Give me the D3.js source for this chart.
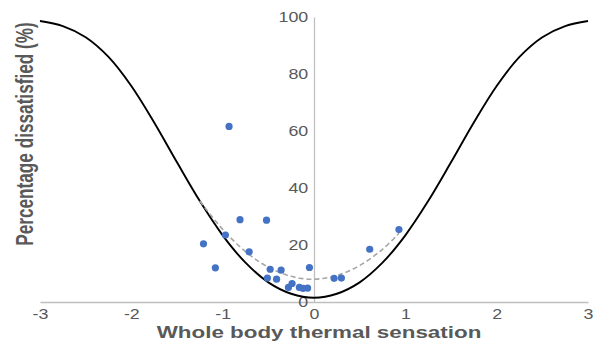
<!DOCTYPE html>
<html><head><meta charset="utf-8">
<script src="https://cdn.jsdelivr.net/npm/d3@7"></script>
<style>body{margin:0;background:#fff}svg{display:block}text{font-family:"Liberation Sans",Arial,sans-serif}</style>
</head><body><svg id="c" width="599" height="350"></svg>
<script>
// Observations (whole body thermal sensation vs percentage dissatisfied)
const obsX = [-0.93,-0.81,-0.52,-1.21,-0.97,-0.71,-1.08,-0.48,-0.36,-0.05,-0.51,-0.41,-0.28,-0.24,-0.16,-0.12,-0.07,0.22,0.30,0.61,0.93];
const obsY = [61.6,28.9,28.7,20.4,23.5,17.6,12.0,11.5,11.2,12.1,8.4,8.0,5.1,6.5,5.1,4.8,4.9,8.3,8.4,18.5,25.4];
// PPD reference curve
const curveX = [-3,-2.75,-2.5,-2.25,-2,-1.75,-1.5,-1.25,-1,-0.75,-0.5,-0.25,0,0.25,0.5,0.75,1,1.25,1.5,1.75,2,2.25,2.5,2.75,3];
const curveY = [98.6,96.8,92.9,86.0,75.8,63.0,49.0,35.4,23.4,13.8,6.9,2.9,1.5,2.9,6.9,13.8,23.4,35.4,49.0,63.0,75.8,86.0,92.9,96.8,98.6];
// Trendline of observations (dashed)
const trendX = [-1.25,-1.0,-0.75,-0.5,-0.25,0,0.25,0.5,0.75,0.93];
const trendY = [35.4,25.5,17.7,12.2,9.0,8.0,9.3,12.8,18.5,24.1];
const xTicks = [-3,-2,-1,0,1,2,3];
const yTicks = [0,20,40,60,80,100];

const svg = d3.select("#c");
const x = d3.scaleLinear().domain([-3,3]).range([40,588]);
const y = d3.scaleLinear().domain([0,100]).range([302,17]);
const axisCol = "#bfbfbf", txtCol = "#595959";

// x axis
const xa = svg.append("g").attr("transform",`translate(0,${y(0)})`)
  .call(d3.axisBottom(x).tickValues(xTicks).tickSize(0).tickPadding(8).tickFormat(d=>String(d)));
xa.select(".domain").attr("stroke",axisCol).attr("stroke-width",1.3);
xa.selectAll("text").attr("fill",txtCol).attr("font-size",15.5).attr("dy","0.6em")
  .attr("font-family","Liberation Sans, Arial, sans-serif").attr("transform","scale(1.15,1)");

// y axis at x=0
const ya = svg.append("g").attr("transform",`translate(${x(0)},0)`)
  .call(d3.axisLeft(y).tickValues(yTicks).tickSize(0).tickPadding(5).tickFormat(d=>String(d)));
ya.select(".domain").attr("stroke",axisCol).attr("stroke-width",1.3);
ya.selectAll("text").attr("fill",txtCol).attr("font-size",15.5)
  .attr("font-family","Liberation Sans, Arial, sans-serif").attr("transform","scale(1.15,1)");

// PPD curve
svg.append("path")
  .datum(curveX.map((d,i)=>[d,curveY[i]]))
  .attr("fill","none").attr("stroke","#000").attr("stroke-width",1.9)
  .attr("d", d3.line().x(d=>x(d[0])).y(d=>y(d[1])).curve(d3.curveCatmullRom));

// trend
svg.append("path")
  .datum(trendX.map((d,i)=>[d,trendY[i]]))
  .attr("fill","none").attr("stroke","#a6a6a6").attr("stroke-width",1.6)
  .attr("stroke-dasharray","5,3")
  .attr("d", d3.line().x(d=>x(d[0])).y(d=>y(d[1])).curve(d3.curveCatmullRom));

// points
svg.append("g").selectAll("circle")
  .data(obsX.map((d,i)=>[d,obsY[i]])).join("circle")
  .attr("cx",d=>x(d[0])).attr("cy",d=>y(d[1])).attr("r",3.6).attr("fill","#4472c4");

// titles
svg.append("text").attr("transform","translate(319,337.5) scale(1.4,1)").attr("text-anchor","middle")
  .attr("font-size",16).attr("font-weight","bold").attr("fill",txtCol)
  .text("Whole body thermal sensation");
svg.append("text").attr("transform","translate(33,134) scale(1.35,1) rotate(-90)").attr("text-anchor","middle")
  .attr("font-size",17.2).attr("font-weight","bold").attr("fill",txtCol)
  .text("Percentage dissatisfied (%)");
</script></body></html>
